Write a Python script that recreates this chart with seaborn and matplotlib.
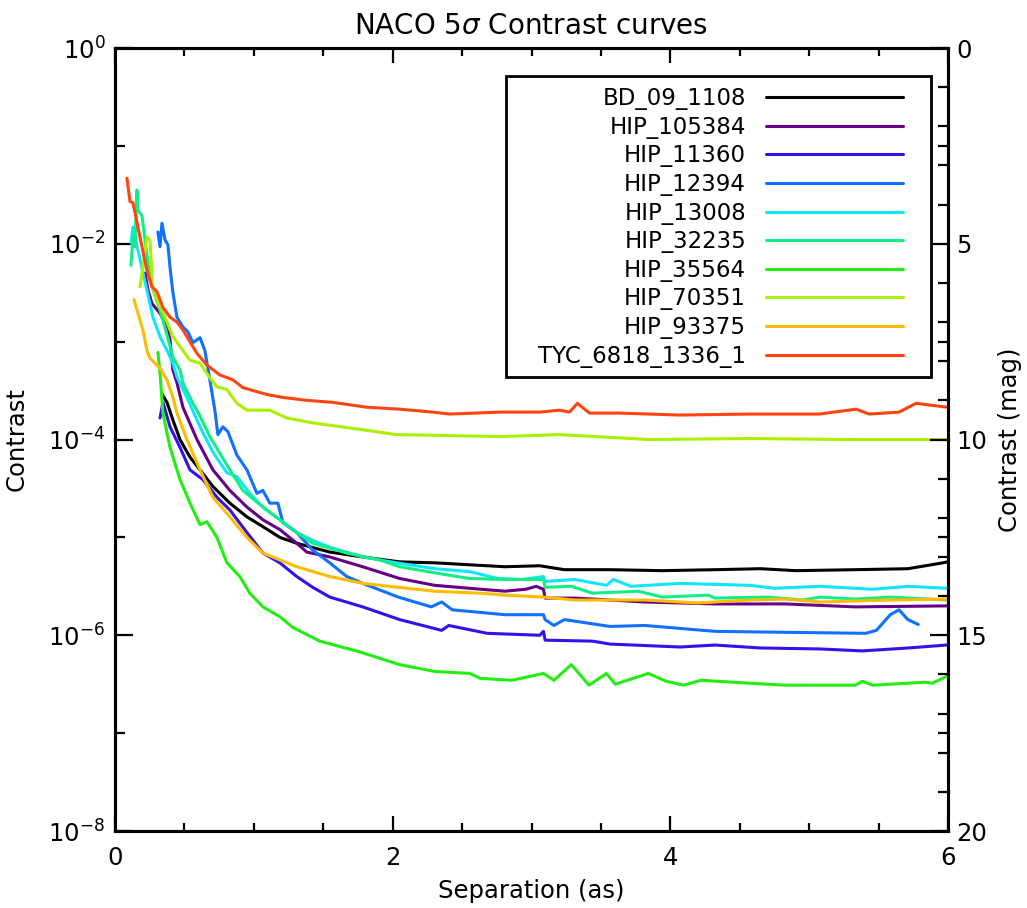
import numpy as np
import pandas as pd
import matplotlib
matplotlib.use("Agg")
import matplotlib.pyplot as plt
import seaborn as sns
from matplotlib.ticker import FixedLocator, MultipleLocator, FuncFormatter, NullFormatter
from matplotlib.patches import Rectangle

# ---------------- data (separation in arcsec, log10 contrast) ----------------
stars = ["BD_09_1108", "HIP_105384", "HIP_11360", "HIP_12394", "HIP_13008",
         "HIP_32235", "HIP_35564", "HIP_70351", "HIP_93375", "TYC_6818_1336_1"]
colors = ["#000000", "#660088", "#3311EE", "#1070FF", "#11E4FF",
          "#11EE88", "#22EE11", "#AAF000", "#FFBB00", "#FF4411"]

sep_bd = [0.336, 0.374, 0.417, 0.468, 0.540, 0.612, 0.705, 0.827, 0.950, 1.065, 1.187, 1.309, 1.547, 1.784,
          2.050, 2.303, 2.555, 2.808, 3.060, 3.237, 3.565, 3.944, 4.322, 4.650, 4.903, 5.332, 5.711, 5.963, 5.995]
logc_bd = [-3.53, -3.62, -3.80, -4.00, -4.18, -4.31, -4.48, -4.65, -4.79, -4.89, -5.00, -5.06, -5.15, -5.20,
           -5.25, -5.26, -5.28, -5.30, -5.29, -5.33, -5.33, -5.34, -5.33, -5.32, -5.34, -5.33, -5.32, -5.26, -5.25]

sep_105384 = [0.216, 0.237, 0.266, 0.324, 0.374, 0.396, 0.417, 0.446, 0.489, 0.590, 0.705, 0.827, 0.950, 1.065,
              1.187, 1.309, 1.381, 1.547, 1.784, 2.050, 2.303, 2.555, 2.808, 2.959, 3.035, 3.086, 3.098, 3.312,
              3.817, 4.322, 4.827, 5.332, 5.990]
logc_105384 = [-2.30, -2.47, -2.61, -2.71, -2.85, -2.98, -3.29, -3.42, -3.67, -4.00, -4.31, -4.52, -4.69, -4.82,
               -4.92, -5.06, -5.15, -5.20, -5.30, -5.42, -5.49, -5.52, -5.55, -5.53, -5.50, -5.53, -5.62, -5.62,
               -5.66, -5.68, -5.68, -5.71, -5.70]

sep_11360 = [0.324, 0.345, 0.396, 0.468, 0.540, 0.633, 0.734, 0.827, 0.950, 1.065, 1.187, 1.309, 1.424, 1.547,
             1.784, 2.050, 2.353, 2.404, 2.681, 3.060, 3.086, 3.098, 3.439, 3.565, 4.070, 4.322, 4.650, 5.079,
             5.383, 5.711, 5.990]
logc_11360 = [-3.78, -3.62, -3.87, -4.08, -4.31, -4.41, -4.59, -4.72, -4.95, -5.16, -5.26, -5.40, -5.51, -5.61,
              -5.71, -5.84, -5.95, -5.90, -5.98, -6.00, -5.96, -6.05, -6.06, -6.09, -6.12, -6.10, -6.13, -6.14,
              -6.16, -6.13, -6.10]

sep_12394 = [0.309, 0.324, 0.338, 0.360, 0.381, 0.396, 0.417, 0.446, 0.489, 0.525, 0.561, 0.612, 0.647, 0.683,
             0.719, 0.741, 0.777, 0.813, 0.878, 0.950, 1.022, 1.065, 1.115, 1.173, 1.209, 1.309, 1.424, 1.547,
             1.669, 1.784, 2.040, 2.278, 2.353, 2.429, 2.808, 3.086, 3.098, 3.161, 3.237, 3.565, 3.817, 4.322,
             4.827, 5.408, 5.484, 5.584, 5.647, 5.711, 5.786]
logc_12394 = [-1.88, -2.03, -1.79, -1.96, -2.01, -2.24, -2.50, -2.75, -2.85, -2.90, -3.01, -2.96, -3.09, -3.39,
              -3.70, -3.95, -3.87, -3.92, -4.16, -4.31, -4.55, -4.52, -4.65, -4.65, -4.85, -4.95, -5.13, -5.26,
              -5.40, -5.47, -5.61, -5.71, -5.66, -5.74, -5.79, -5.79, -5.84, -5.90, -5.84, -5.91, -5.90, -5.96,
              -5.97, -5.98, -5.95, -5.79, -5.74, -5.84, -5.89]

sep_13008 = [0.115, 0.129, 0.144, 0.273, 0.324, 0.374, 0.417, 0.446, 0.518, 0.612, 0.705, 0.806, 0.878, 0.971,
             1.065, 1.187, 1.309, 1.424, 1.547, 1.784, 2.029, 2.303, 2.555, 2.757, 2.934, 3.086, 3.098, 3.312,
             3.540, 3.590, 3.717, 4.070, 4.575, 4.751, 5.079, 5.458, 5.711, 5.990]
logc_13008 = [-1.99, -1.83, -1.93, -2.75, -2.95, -3.09, -3.22, -3.36, -3.57, -3.87, -4.13, -4.34, -4.38, -4.55,
              -4.69, -4.82, -4.95, -5.03, -5.10, -5.20, -5.26, -5.32, -5.35, -5.42, -5.43, -5.40, -5.45, -5.43,
              -5.49, -5.43, -5.50, -5.47, -5.49, -5.52, -5.50, -5.53, -5.50, -5.52]

sep_32235 = [0.115, 0.129, 0.144, 0.158, 0.165, 0.194, 0.216, 0.237, 0.273, 0.324, 0.374, 0.417, 0.468, 0.489,
             0.561, 0.590, 0.683, 0.806, 0.921, 1.065, 1.187, 1.309, 1.424, 1.669, 1.906, 2.050, 2.378, 2.555,
             2.808, 3.086, 3.098, 3.287, 3.439, 3.767, 3.944, 4.272, 4.322, 4.701, 4.953, 5.079, 5.332, 5.584,
             5.990]
logc_32235 = [-2.22, -1.93, -2.03, -1.45, -1.66, -1.71, -1.96, -2.20, -2.47, -2.68, -2.93, -3.16, -3.29, -3.42,
              -3.63, -3.70, -3.97, -4.26, -4.52, -4.69, -4.82, -4.95, -5.06, -5.16, -5.23, -5.30, -5.38, -5.42,
              -5.43, -5.43, -5.51, -5.50, -5.57, -5.55, -5.61, -5.59, -5.62, -5.61, -5.64, -5.61, -5.63, -5.61,
              -5.64]

sep_35564 = [0.309, 0.324, 0.345, 0.396, 0.468, 0.540, 0.612, 0.662, 0.734, 0.806, 0.899, 0.971, 1.065, 1.187,
             1.281, 1.475, 1.763, 2.050, 2.303, 2.555, 2.631, 2.858, 3.086, 3.161, 3.287, 3.414, 3.540, 3.603,
             3.842, 3.969, 4.095, 4.222, 4.575, 4.827, 5.332, 5.383, 5.458, 5.837, 5.887, 5.990]
logc_35564 = [-3.11, -3.32, -3.73, -4.08, -4.41, -4.65, -4.87, -4.84, -5.00, -5.26, -5.40, -5.57, -5.71, -5.81,
              -5.92, -6.06, -6.17, -6.30, -6.37, -6.39, -6.44, -6.46, -6.39, -6.46, -6.30, -6.51, -6.39, -6.50,
              -6.39, -6.47, -6.51, -6.46, -6.49, -6.51, -6.51, -6.47, -6.51, -6.48, -6.49, -6.42]

sep_70351 = [0.180, 0.201, 0.230, 0.252, 0.273, 0.324, 0.345, 0.417, 0.489, 0.540, 0.612, 0.683, 0.734, 0.806,
             0.878, 0.950, 1.115, 1.237, 1.424, 1.784, 2.029, 2.410, 2.770, 3.201, 3.849, 4.568, 5.288, 5.993]
logc_70351 = [-2.44, -2.24, -1.93, -1.96, -2.47, -2.65, -2.70, -2.95, -3.09, -3.19, -3.22, -3.37, -3.46, -3.49,
              -3.63, -3.70, -3.70, -3.78, -3.83, -3.90, -3.95, -3.96, -3.97, -3.95, -4.00, -3.99, -4.00, -4.00]

sep_93375 = [0.137, 0.165, 0.201, 0.230, 0.252, 0.324, 0.374, 0.417, 0.446, 0.518, 0.612, 0.705, 0.827, 0.950,
             1.065, 1.187, 1.309, 1.547, 1.784, 2.040, 2.303, 2.631, 2.808, 3.086, 3.312, 3.817, 4.196, 4.575,
             4.827, 5.079, 5.584, 5.990]
logc_93375 = [-2.57, -2.71, -2.88, -3.09, -3.17, -3.27, -3.39, -3.57, -3.73, -4.00, -4.31, -4.59, -4.79, -5.00,
              -5.16, -5.23, -5.30, -5.40, -5.47, -5.51, -5.55, -5.57, -5.59, -5.61, -5.64, -5.64, -5.67, -5.64,
              -5.63, -5.66, -5.64, -5.63]

sep_tyc = [0.086, 0.108, 0.129, 0.158, 0.194, 0.230, 0.266, 0.302, 0.345, 0.396, 0.446, 0.489, 0.518, 0.590,
           0.662, 0.755, 0.849, 0.921, 1.094, 1.209, 1.381, 1.568, 1.813, 2.050, 2.288, 2.410, 2.770, 3.058,
           3.201, 3.273, 3.331, 3.417, 3.633, 4.065, 4.568, 5.072, 5.338, 5.432, 5.647, 5.770, 5.993]
logc_tyc = [-1.33, -1.57, -1.58, -1.78, -2.03, -2.27, -2.44, -2.49, -2.65, -2.75, -2.80, -2.88, -2.95, -3.12,
            -3.24, -3.34, -3.39, -3.47, -3.54, -3.57, -3.60, -3.62, -3.67, -3.69, -3.72, -3.74, -3.72, -3.72,
            -3.70, -3.72, -3.63, -3.73, -3.73, -3.75, -3.74, -3.74, -3.69, -3.74, -3.72, -3.63, -3.67]

separations = [sep_bd, sep_105384, sep_11360, sep_12394, sep_13008,
               sep_32235, sep_35564, sep_70351, sep_93375, sep_tyc]
log_contrasts = [logc_bd, logc_105384, logc_11360, logc_12394, logc_13008,
                 logc_32235, logc_35564, logc_70351, logc_93375, logc_tyc]

x_major = [0, 2, 4, 6]
y_major_exp = [0, -2, -4, -6, -8]
y_minor_exp = [-1, -3, -5, -7]
mag_major = [0, 5, 10, 15, 20]
mag_minor = [m for m in range(1, 20) if m % 5 != 0]

# ---------------- build long table ----------------
frames = []
for name, s, lc in zip(stars, separations, log_contrasts):
    frames.append(pd.DataFrame({"star": name, "sep": s, "contrast": 10.0 ** np.array(lc)}))
df = pd.concat(frames, ignore_index=True)

# ---------------- style ----------------
sns.set_theme(style="ticks")
plt.rcParams["font.family"] = ["DejaVu Sans"]
plt.rcParams["mathtext.fontset"] = "dejavusans"
for key in ["text.color", "axes.labelcolor", "xtick.color", "ytick.color",
            "xtick.labelcolor", "ytick.labelcolor", "axes.edgecolor"]:
    plt.rcParams[key] = "black"
FS = 17.5

fig = plt.figure(figsize=(10.27, 9.08), dpi=100)
ax = fig.add_axes([0.1120, 0.0848, 0.8111, 0.8623])

sns.lineplot(data=df, x="sep", y="contrast", hue="star", hue_order=stars,
             palette=dict(zip(stars, colors)), estimator=None, sort=False,
             linewidth=2.2, ax=ax, legend=True)

ax.set_yscale("log")
ax.set_xlim(0, 6)
ax.set_ylim(1e-8, 1e0)

ax.xaxis.set_major_locator(FixedLocator(x_major))
ax.xaxis.set_minor_locator(MultipleLocator(0.5))
ax.yaxis.set_major_locator(FixedLocator([10.0 ** e for e in y_major_exp]))
ax.yaxis.set_minor_locator(FixedLocator([10.0 ** e for e in y_minor_exp]))
ax.yaxis.set_minor_formatter(NullFormatter())
ax.yaxis.set_major_formatter(FuncFormatter(lambda v, p: r"$10^{%d}$" % int(round(np.log10(v)))))
ax.xaxis.set_major_formatter(FuncFormatter(lambda v, p: "%d" % v))

ax.tick_params(which="both", direction="in", top=True, right=False, width=1.6, colors="black",
               labelsize=FS)
ax.tick_params(axis="x", which="major", length=11, pad=11)
ax.tick_params(axis="x", which="minor", length=6)
ax.tick_params(axis="y", which="major", length=13, pad=7)
ax.tick_params(axis="y", which="minor", length=7)
for sp in ax.spines.values():
    sp.set_linewidth(2.2)
    sp.set_color("black")

ax.set_xlabel("Separation (as)", fontsize=FS, labelpad=6, color="black")
ax.set_ylabel("Contrast", fontsize=FS, labelpad=14, color="black")
ax.set_title(r"NACO 5$\sigma$ Contrast curves", fontsize=20, pad=10, color="black")

# right axis in magnitudes
tw = ax.twinx()
tw.set_yscale("log")
tw.set_ylim(1e-8, 1e0)
tw.yaxis.set_major_locator(FixedLocator([10.0 ** (-m / 2.5) for m in mag_major]))
tw.yaxis.set_major_formatter(FuncFormatter(lambda v, p: "%d" % int(round(-2.5 * np.log10(v)))))
tw.yaxis.set_minor_locator(FixedLocator([10.0 ** (-m / 2.5) for m in mag_minor] +
                                        [10.0 ** e for e in y_minor_exp]))
tw.yaxis.set_minor_formatter(NullFormatter())
tw.tick_params(which="both", direction="in", width=1.6, labelsize=FS, colors="black")
tw.tick_params(which="major", length=13, pad=6)
tw.tick_params(which="minor", length=7)
tw.set_ylabel("Contrast (mag)", fontsize=FS, labelpad=8, color="black")
for sp in tw.spines.values():
    sp.set_linewidth(2.2)
    sp.set_color("black")

# legend
handles, labels = ax.get_legend_handles_labels()
if ax.get_legend():
    ax.get_legend().remove()
for h in handles:
    h.set_linewidth(2.2)
tw.add_patch(Rectangle((0.469, 0.580), 0.511, 0.384, transform=ax.transAxes,
                       facecolor="white", edgecolor="black", linewidth=2.0, zorder=3))
leg = tw.legend(handles, labels, loc="upper right", bbox_to_anchor=(0.946, 0.950),
                frameon=False, markerfirst=False, fontsize=16.5, handlelength=6.0,
                handletextpad=0.85, labelspacing=0.245, borderpad=0, borderaxespad=0)
for t in leg.get_texts():
    t.set_color("black")
leg.set_zorder(4)

fig.savefig("out.png", dpi=100)
